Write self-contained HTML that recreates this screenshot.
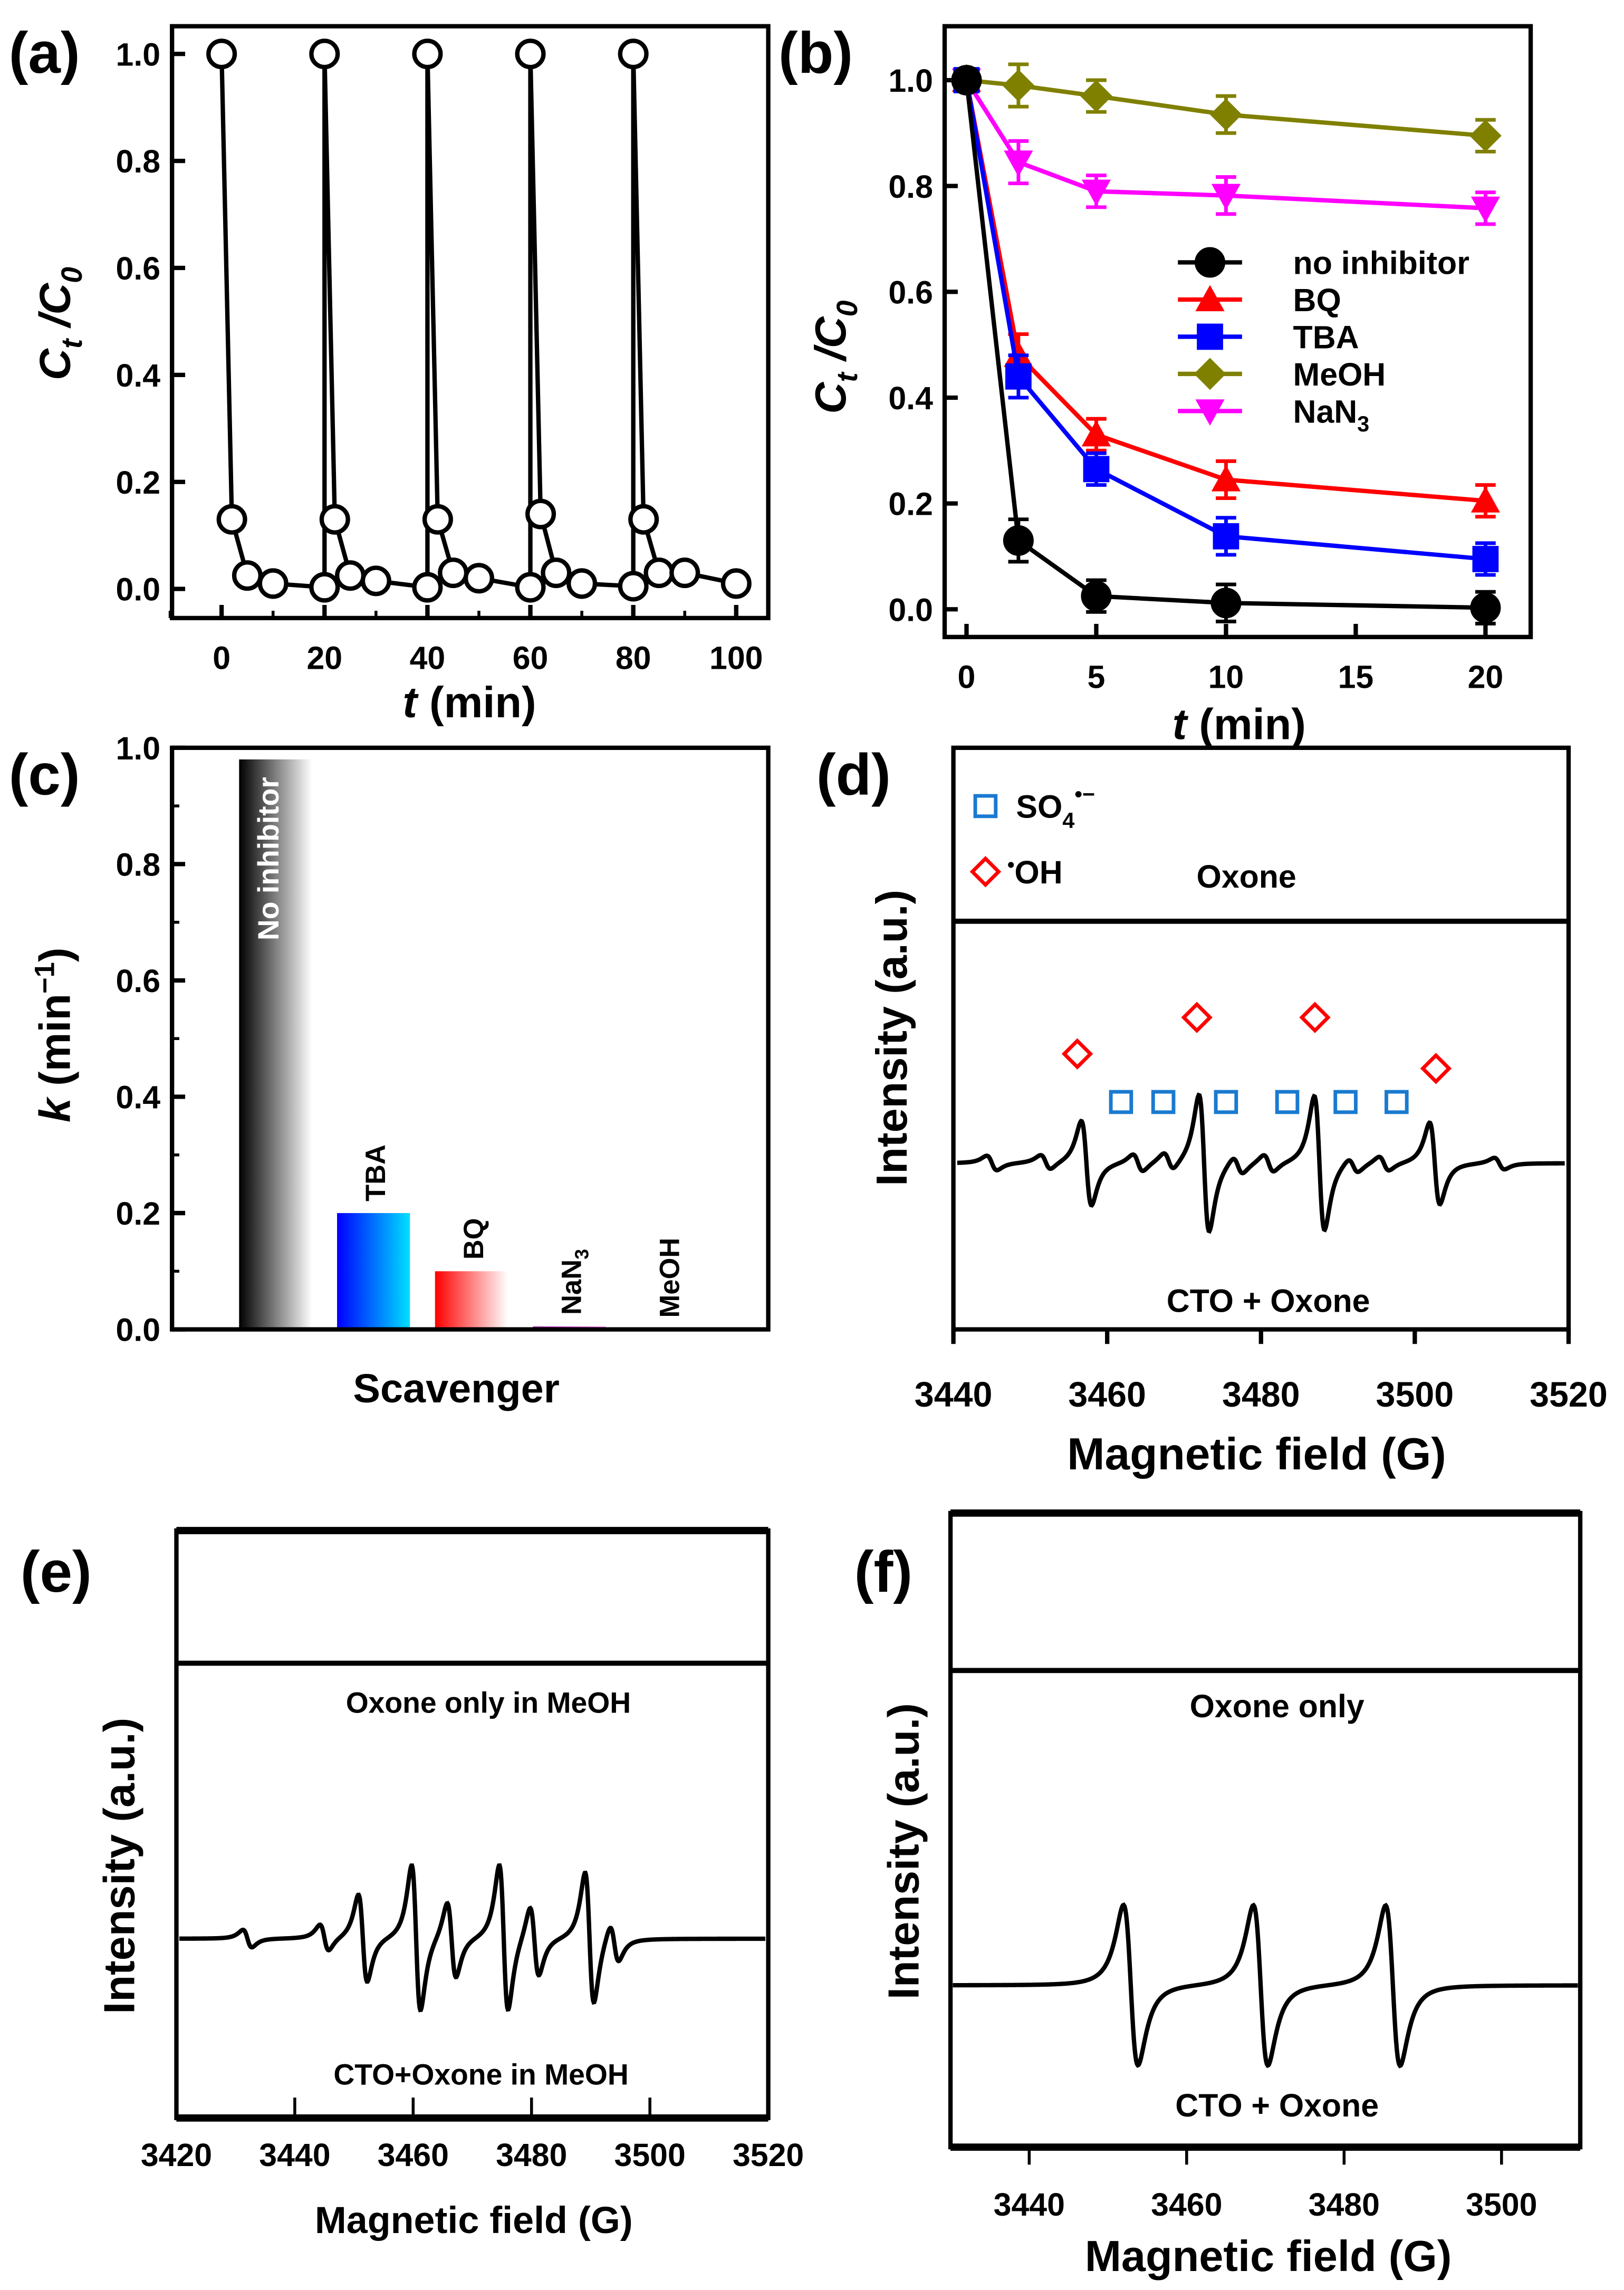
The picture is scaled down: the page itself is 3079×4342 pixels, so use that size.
<!DOCTYPE html>
<html><head><meta charset="utf-8">
<style>
html,body{margin:0;padding:0;background:#fff;}
svg{display:block;}
text{font-family:"Liberation Sans",Arial,sans-serif;font-weight:bold;fill:#000;}
</style></head>
<body>
<svg id="fig" width="3079" height="4342" viewBox="0 0 1114 1571" xmlns="http://www.w3.org/2000/svg">
<defs>
<linearGradient id="gBlack" x1="0" x2="1" y1="0" y2="0"><stop offset="0" stop-color="#000"/><stop offset="1" stop-color="#fff"/></linearGradient>
<linearGradient id="gBlue" x1="0" x2="1" y1="0" y2="0"><stop offset="0" stop-color="#0000ff"/><stop offset="1" stop-color="#00e0ff"/></linearGradient>
<linearGradient id="gRed" x1="0" x2="1" y1="0" y2="0"><stop offset="0" stop-color="#ff0000"/><stop offset="1" stop-color="#fff"/></linearGradient>
<linearGradient id="gMag" x1="0" x2="1" y1="0" y2="0"><stop offset="0" stop-color="#a000a0"/><stop offset="1" stop-color="#ff80ff"/></linearGradient>
</defs>
</svg>
<script>
// ---------- Panel (a) data ----------
const aTimes = [0,2,5,10,20, 20,22,25,30,40, 40,42,45,50,60, 60,62,65,70,80, 80,82,85,90,100];
const aValues = [1,0.13,0.025,0.01,0.003, 1,0.13,0.025,0.015,0.003, 1,0.13,0.03,0.02,0.003, 1,0.14,0.03,0.01,0.005, 1,0.13,0.03,0.03,0.01];
const aXTicks = [0,20,40,60,80,100];
const aYTicks = [0,0.2,0.4,0.6,0.8,1.0];
// ---------- Panel (b) data ----------
const bTimes = [0,2,5,10,20];
const bNoInhibitor = [1,0.13,0.025,0.012,0.003];
const bBQ = [1,0.48,0.33,0.245,0.205];
const bTBA = [1,0.44,0.265,0.138,0.095];
const bMeOH = [1,0.99,0.97,0.935,0.895];
const bNaN3 = [1,0.845,0.79,0.782,0.758];
const bErr = [0.015,0.04,0.03,0.035,0.03];
const bXTicks = [0,5,10,15,20];
const bYTicks = [0,0.2,0.4,0.6,0.8,1.0];
// ---------- Panel (c) data ----------
const cCategories = ["No inhibitor","TBA","BQ","NaN3","MeOH"];
const cValues = [0.98,0.2,0.1,0.005,0.0];
const cYTicks = [0,0.2,0.4,0.6,0.8,1.0];
// ---------- Panel (d) ESR lines: field (G), amplitude (px) ----------
const dFields = [3457.3,3472.6,3487.6,3502.6, 3445,3452,3464,3468,3477,3481,3492,3496,3511];
const dAmps = [29,47,46,28, 5,5,6,6,6,6,5,5,4];
const dXTicks = [3440,3460,3480,3500,3520];
// ---------- Panel (e) ESR lines ----------
const eFields = [3432,3445,3451.5,3460.5,3466.5,3475.3,3480.5,3489.8,3494];
const eAmps = [6,9,30,50,26,50,24,45,13];
const eXTicks = [3420,3440,3460,3480,3500,3520];
// ---------- Panel (f) ESR lines ----------
const fFields = [3452.9,3469.4,3486.2];
const fAmps = [55,55,55];
const fXTicks = [3440,3460,3480,3500];

const NS="http://www.w3.org/2000/svg";
const svg=document.getElementById('fig');
function mk(tag,attrs,parent){const e=document.createElementNS(NS,tag);for(const k in attrs)e.setAttribute(k,attrs[k]);(parent||svg).appendChild(e);return e;}
function txt(x,y,s,size,anchor,parent){const t=mk('text',{x:x,y:y,'font-size':size,'text-anchor':anchor||'middle'},parent);t.textContent=s;return t;}
function lin(d0,d1,r0,r1){return v=>r0+(v-d0)/(d1-d0)*(r1-r0);}
function fmt1(v){return v.toFixed(1);}

function frame(name,x0,y0,x1,y1){
  const r=mk('rect',{x:x0,y:y0,width:x1-x0,height:y1-y0,fill:'none',stroke:'#000','stroke-width':3});
  
  
}
function panelLabel(s,x,y){
  const t=txt(x,y,s,40,'start');
  
  
}
function ctTitle(x,y){
  const t=mk('text',{transform:`translate(${x},${y}) rotate(-90)`,'text-anchor':'middle','font-size':30,'font-style':'italic'});
  
  
  t.innerHTML='C<tspan font-size="20" dy="8">t</tspan><tspan dy="-8"> /C</tspan><tspan font-size="20" dy="8">0</tspan>';
}
function marker(g,shape,x,y,color,fill){
  let e;
  if(shape==='circle') e=mk('circle',{cx:x,cy:y,r:9,fill:fill||color,stroke:color,'stroke-width':3},g);
  else if(shape==='tri') e=mk('polygon',{points:`${x},${y-10} ${x+10},${y+8} ${x-10},${y+8}`,fill:color},g);
  else if(shape==='itri') e=mk('polygon',{points:`${x},${y+10} ${x+10},${y-8} ${x-10},${y-8}`,fill:color},g);
  else if(shape==='sq') e=mk('rect',{x:x-9,y:y-9,width:18,height:18,fill:color},g);
  else if(shape==='dia') e=mk('polygon',{points:`${x},${y-11} ${x+11},${y} ${x},${y+11} ${x-11},${y}`,fill:color},g);
  return e;
}

// ================= Panel (a) =================
(function(){
  const X0=118,X1=527,Y0=18,Y1=424;
  const sx=lin(0,100,152,505), sy=lin(0,1,404,37);
  frame('panel-a-frame',X0,Y0,X1,Y1);
  panelLabel('(a)',6,50);
  aXTicks.forEach(v=>{mk('line',{x1:sx(v),x2:sx(v),y1:Y1,y2:Y1-9,stroke:'#000','stroke-width':3});txt(sx(v),Y1+35,String(v),22);});
  [-10,10,30,50,70,90].forEach(v=>mk('line',{x1:sx(v),x2:sx(v),y1:Y1,y2:Y1-5,stroke:'#000','stroke-width':2}));
  aYTicks.forEach(v=>{mk('line',{x1:X0,x2:X0+9,y1:sy(v),y2:sy(v),stroke:'#000','stroke-width':3});txt(X0-8,sy(v)+8,fmt1(v),22,'end');});
  ctTitle(48,222);
  const xt=mk('text',{x:322,y:492,'text-anchor':'middle','font-size':30});xt.innerHTML='<tspan font-style="italic">t</tspan> (min)';
  
  const g=mk('g',{});
  mk('polyline',{points:aTimes.map((t,i)=>sx(t)+','+sy(aValues[i])).join(' '),fill:'none',stroke:'#000','stroke-width':3},g);
  aTimes.forEach((t,i)=>{const m=marker(g,'circle',sx(t),sy(aValues[i]),'#000','#fff');
    
    });
})();

// ================= Panel (b) =================
(function(){
  const X0=648,X1=1050,Y0=18,Y1=437;
  const sx=lin(0,20,663,1019), sy=lin(0,1,418,55);
  frame('panel-b-frame',X0,Y0,X1,Y1);
  panelLabel('(b)',534,50);
  bXTicks.forEach(v=>{mk('line',{x1:sx(v),x2:sx(v),y1:Y1,y2:Y1-9,stroke:'#000','stroke-width':3});txt(sx(v),Y1+35,String(v),22);});
  bYTicks.forEach(v=>{mk('line',{x1:X0,x2:X0+9,y1:sy(v),y2:sy(v),stroke:'#000','stroke-width':3});txt(X0-8,sy(v)+8,fmt1(v),22,'end');});
  ctTitle(580,245);
  const xt=mk('text',{x:850,y:507,'text-anchor':'middle','font-size':30});xt.innerHTML='<tspan font-style="italic">t</tspan> (min)';
  
  const series=[[bMeOH,'#808000','dia','MeOH'],[bNaN3,'#ff00ff','itri','NaN3'],[bBQ,'#ff0000','tri','BQ'],[bTBA,'#0000ff','sq','TBA'],[bNoInhibitor,'#000','circle','no inhibitor']];
  series.forEach(s=>{
    const g=mk('g',{});
    
    
    mk('polyline',{points:bTimes.map((t,i)=>sx(t)+','+sy(s[0][i])).join(' '),fill:'none',stroke:s[1],'stroke-width':3},g);
    bTimes.forEach((t,i)=>{
      const y0=sy(s[0][i]-bErr[i]),y1=sy(s[0][i]+bErr[i]),x=sx(t);
      mk('path',{d:`M${x},${y0}V${y1}M${x-7},${y0}H${x+7}M${x-7},${y1}H${x+7}`,stroke:s[1],'stroke-width':2.5,fill:'none'},g);
      const m=marker(g,s[2],x,sy(s[0][i]),s[1]);
      
      
    });
  });
  const leg=[['no inhibitor','#000','circle'],['BQ','#ff0000','tri'],['TBA','#0000ff','sq'],['MeOH','#808000','dia'],['NaN3','#ff00ff','itri']];
  leg.forEach((l,i)=>{
    const y=180+i*25.5;
    const g=mk('g',{});
    
    
    mk('line',{x1:808,x2:852,y1:y,y2:y,stroke:l[1],'stroke-width':3},g);
    marker(g,l[2],830,y,l[1]);
    const t=txt(887,y+8,'',22,'start',g);
    if(l[0]==='NaN3') t.innerHTML='NaN<tspan font-size="15" dy="6">3</tspan>'; else t.textContent=l[0];
  });
})();

// ================= Panel (c) =================
(function(){
  const X0=118,X1=527,Y0=513,Y1=912;
  const sy=lin(0,1,912,513);
  panelLabel('(c)',6,545);
  const fills=['url(#gBlack)','url(#gBlue)','url(#gRed)','url(#gMag)','#888'];
  const bx=i=>164+i*67.2;
  cCategories.forEach((c,i)=>{
    const v=cValues[i];
    const r=mk('rect',{x:bx(i),y:sy(v),width:50,height:Math.max(0,sy(0)-sy(v)),fill:fills[i]});
    
    
    const cx=bx(i)+33;
    let t;
    if(i===0){t=mk('text',{transform:`translate(${cx-6},${sy(v)+12}) rotate(-90)`,'text-anchor':'end','font-size':20,fill:'#fff',style:'fill:#fff'});t.textContent=c;}
    else{t=mk('text',{transform:`translate(${cx},${sy(v)-8}) rotate(-90)`,'text-anchor':'start','font-size':19});
      if(c==='NaN3') t.innerHTML='NaN<tspan font-size="13" dy="5">3</tspan>'; else t.textContent=c;}
    
    
  });
  frame('panel-c-frame',X0,Y0,X1,Y1);
  cYTicks.forEach(v=>{mk('line',{x1:X0,x2:X0+9,y1:sy(v),y2:sy(v),stroke:'#000','stroke-width':3});txt(X0-8,sy(v)+8,fmt1(v),22,'end');});
  [0.1,0.3,0.5,0.7,0.9].forEach(v=>mk('line',{x1:X0,x2:X0+5,y1:sy(v),y2:sy(v),stroke:'#000','stroke-width':2}));
  const yt=mk('text',{transform:'translate(48,710) rotate(-90)','text-anchor':'middle','font-size':30});
  yt.innerHTML='<tspan font-style="italic">k</tspan> (min<tspan font-size="19" dy="-11">−1</tspan><tspan dy="11">)</tspan>';
  
  const xt=txt(313,962,'Scavenger',28);
  
})();

// ---------- ESR helper ----------
function esrPath(fields,amps,gamma,sx,base,f0,f1){
  const pts=[];
  for(let B=f0;B<=f1;B+=0.1){
    let y=0;
    for(let k=0;k<fields.length;k++){
      const u=(B-fields[k])/gamma;
      y+=amps[k]*(-u/Math.pow(1+u*u,2))/0.3248;
    }
    pts.push(sx(B).toFixed(2)+','+(base-y).toFixed(2));
  }
  return pts.join(' ');
}
function esrLine(name,fields,amps,gamma,sx,base,f0,f1){
  const p=mk('polyline',{points:esrPath(fields,amps,gamma,sx,base,f0,f1),fill:'none',stroke:'#000','stroke-width':3});
  
  
}
function flatLine(name,x0,x1,y){
  const p=mk('line',{x1:x0,x2:x1,y1:y,y2:y,stroke:'#000','stroke-width':3.5});
  
  
}
function intensityTitle(x,y){
  const t=mk('text',{transform:`translate(${x},${y}) rotate(-90)`,'text-anchor':'middle','font-size':30});
  t.textContent='Intensity (a.u.)';
  
}

// ================= Panel (d) =================
(function(){
  const X0=654,X1=1076,Y0=513,Y1=912;
  const sx=lin(3440,3520,X0,X1);
  frame('panel-d-frame',X0,Y0,X1,Y1);
  panelLabel('(d)',560,545);
  dXTicks.forEach(v=>{mk('line',{x1:sx(v),x2:sx(v),y1:Y1,y2:Y1+10,stroke:'#000','stroke-width':3});txt(sx(v),Y1+53,String(v),24);});
  intensityTitle(622,712);
  const xt=txt(862,1008,'Magnetic field (G)',31);
  flatLine('oxone-spectrum',X0,X1,632);
  esrLine('cto-oxone-spectrum',dFields,dAmps,1.15,sx,798,3440.5,3519.5);
  txt(855,609,'Oxone',22);
  txt(870,900,'CTO + Oxone',22);
  [769,798,841,883,923,958].forEach(x=>{const r=mk('rect',{x:x-7,y:749,width:14,height:14,fill:'none',stroke:'#1a7ad0','stroke-width':2.5});});
  [[739,723],[821,698],[902,698],[985,733]].forEach(p=>{const r=mk('polygon',{points:`${p[0]},${p[1]-9} ${p[0]+9},${p[1]} ${p[0]},${p[1]+9} ${p[0]-9},${p[1]}`,fill:'none',stroke:'#ff0000','stroke-width':2.5});});
  const g=mk('g',{});
  mk('rect',{x:669,y:546,width:14,height:14,fill:'none',stroke:'#1a7ad0','stroke-width':2.5},g);
  const t1=txt(697,561,'',22,'start',g);t1.innerHTML='SO<tspan font-size="15" dy="7">4</tspan><tspan font-size="15" dy="-18">•−</tspan>';
  mk('polygon',{points:'676,589 685,598 676,607 667,598',fill:'none',stroke:'#ff0000','stroke-width':2.5},g);
  const t2=txt(691,606,'',22,'start',g);t2.innerHTML='<tspan font-size="14" dy="-8">•</tspan><tspan dy="8">OH</tspan>';
})();

// ================= Panel (e) =================
(function(){
  const X0=121,X1=527,Y0=1050,Y1=1453;
  const sx=lin(3420,3520,X0,X1);
  frame('panel-e-frame',X0,Y0,X1,Y1);
  mk('line',{x1:X0,x2:X1,y1:Y0,y2:Y0,stroke:'#000','stroke-width':5});
  mk('line',{x1:X0,x2:X1,y1:Y1,y2:Y1,stroke:'#000','stroke-width':5});
  panelLabel('(e)',14,1092);
  eXTicks.forEach(v=>{mk('line',{x1:sx(v),x2:sx(v),y1:Y1,y2:Y1-14,stroke:'#000','stroke-width':2});txt(sx(v),Y1+33,String(v),22);});
  intensityTitle(92,1280);
  const xt=txt(325,1532,'Magnetic field (G)',26);
  flatLine('oxone-meoh-spectrum',X0,X1,1141);
  esrLine('cto-oxone-meoh-spectrum',eFields,eAmps,1.3,sx,1330,3420.5,3519.5);
  txt(335,1175,'Oxone only in MeOH',20);
  txt(330,1430,'CTO+Oxone in MeOH',20);
})();

// ================= Panel (f) =================
(function(){
  const X0=652,X1=1084,Y0=1038,Y1=1473;
  const sx=lin(3440,3500,706,1030);
  frame('panel-f-frame',X0,Y0,X1,Y1);
  mk('line',{x1:X0,x2:X1,y1:Y0,y2:Y0,stroke:'#000','stroke-width':5});
  mk('line',{x1:X0,x2:X1,y1:Y1,y2:Y1,stroke:'#000','stroke-width':5});
  panelLabel('(f)',586,1092);
  fXTicks.forEach(v=>{mk('line',{x1:sx(v),x2:sx(v),y1:Y1,y2:Y1+12,stroke:'#000','stroke-width':2});txt(sx(v),Y1+47,String(v),22);});
  intensityTitle(630,1270);
  const xt=txt(870,1558,'Magnetic field (G)',30);
  flatLine('oxone-only-spectrum',X0,X1,1146);
  esrLine('cto-oxone-f-spectrum',fFields,fAmps,1.6,sx,1362,3430.3,3509.7);
  txt(876,1178,'Oxone only',22);
  txt(876,1452,'CTO + Oxone',22);
})();
</script>
</body></html>
